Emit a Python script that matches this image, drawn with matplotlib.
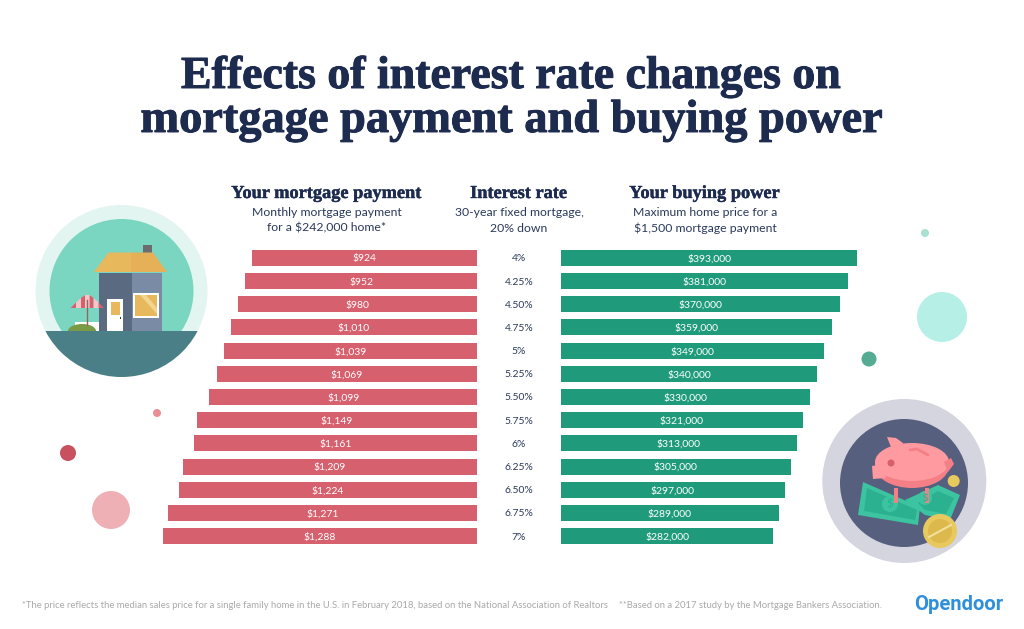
import matplotlib
matplotlib.use('Agg')
import matplotlib.pyplot as plt
import matplotlib.patheffects as pe
from matplotlib.patches import Circle, Ellipse, Polygon, Rectangle, Wedge

W, H = 1024, 629
NAVY = '#1d2b4f'
RED = '#d6606d'
GREEN = '#1f9b7c'

rates = ['4%', '4.25%', '4.50%', '4.75%', '5%', '5.25%', '5.50%', '5.75%', '6%', '6.25%', '6.50%', '6.75%', '7%']
payments = [924, 952, 980, 1010, 1039, 1069, 1099, 1149, 1161, 1209, 1224, 1271, 1288]
buying_power = [393000, 381000, 370000, 359000, 349000, 340000, 330000, 321000, 313000, 305000, 297000, 289000, 282000]

plt.rcParams['font.family'] = ['Lato', 'DejaVu Sans']
SERIF = ['Liberation Serif', 'DejaVu Serif']

fig = plt.figure(figsize=(W / 100, H / 100), dpi=100, facecolor='white')


def px_axes(x0, y0, x1, y1):
    # axes placed by pixel box, y counted from the top of the image
    return fig.add_axes([x0 / W, 1 - y1 / H, (x1 - x0) / W, (y1 - y0) / H])


# backdrop in pixel coordinates for the text and the drawings
bg = px_axes(0, 0, W, H)
bg.set_xlim(0, W)
bg.set_ylim(H, 0)
bg.axis('off')


def circle(x, y, r, color, **kw):
    p = Circle((x, y), r, fc=color, ec='none', **kw)
    bg.add_patch(p)
    return p


def poly(pts, color, **kw):
    p = Polygon(pts, closed=True, fc=color, ec='none', **kw)
    bg.add_patch(p)
    return p


# bubbles
circle(925, 233, 4, '#a8e0d2')
circle(942, 317, 25, '#b5efe6')
circle(869, 359, 7.5, '#55ab93')
circle(157, 413, 4, '#e98f94')
circle(68, 453, 8, '#c9505f')
circle(111, 510, 19, '#eeb0b5')

# house
circle(121.5, 291, 86, '#e3f5f0')
circle(121.5, 291, 72, '#7ad6c0')
ground = circle(121.5, 291, 86, '#4a7f88')
ground.set_clip_path(Rectangle((0, 331), 300, 60, transform=bg.transData))
bg.add_patch(Rectangle((75, 322), 24, 9, fc='white', ec='none'))
bush = Ellipse((82, 331), 28, 14, fc='#7a9a45', ec='none')
bg.add_patch(bush)
bush.set_clip_path(Rectangle((0, 0), 300, 331, transform=bg.transData))
bg.add_patch(Rectangle((99, 273), 33, 58, fc='#5a6a80', ec='none'))
bg.add_patch(Rectangle((132, 273), 30, 58, fc='#7a8ba6', ec='none'))
bg.add_patch(Rectangle((143, 245), 9, 8, fc='#6b6b70', ec='none'))
poly([(94, 272), (108.5, 252.5), (131, 252.5), (131, 272)], '#e8b85c')
poly([(131, 272), (131, 252.5), (153, 252.5), (167, 272)], '#e5b057')
bg.add_patch(Rectangle((107, 299), 16, 32, fc='white', ec='none'))
bg.add_patch(Rectangle((110.5, 302), 9, 13, fc='#e8b85c', ec='none'))
bg.add_patch(Rectangle((119.5, 317), 1.5, 2, fc='#333333', ec='none'))
bg.add_patch(Rectangle((133, 293), 26, 25, fc='white', ec='none'))
bg.add_patch(Rectangle((135, 295), 22, 21, fc='#e8b85c', ec='none'))
poly([(140, 295), (146, 295), (157, 308), (157, 314)], '#f3d592')
bg.plot([87.3, 87.3], [300, 325], color='#8a6a5a', lw=1)
# umbrella dome with stripes
stripe_x = [70.7, 76, 81, 85, 89.6, 93.6, 98.6, 104]
stripe_y = [308, 302.5, 298, 295.2, 295.2, 298, 302.5, 308]
for i in range(7):
    poly([(stripe_x[i], stripe_y[i]), (stripe_x[i + 1], stripe_y[i + 1]),
          (stripe_x[i + 1], 308), (stripe_x[i], 308)], '#d6606d' if i % 2 == 0 else '#f4c6c9')

# piggy bank
circle(904.3, 481, 82, '#d4d5de')
circle(904, 483, 64, '#565f7e')
poly([(905, 500), (938, 485), (960, 495), (950, 520), (925, 515)], '#3cc4a0')
poly([(918, 503), (938, 491), (954, 498), (946, 514), (925, 510)], '#2bb090')
poly([(863, 482), (920, 507), (918, 525), (858, 515)], '#3cc4a0')
poly([(867, 488), (917, 510), (915, 520), (864, 511)], '#2bb090')
circle(890, 504, 8, '#3cc4a0')
circle(925, 498, 7, '#3cc4a0')
bg.text(890, 504, '$', ha='center', va='center', color='#2bb090', fontsize=8)
bg.text(925, 498, '$', ha='center', va='center', color='#2bb090', fontsize=7)
bg.add_patch(Rectangle((894, 488), 4, 15, fc='#f47f86', ec='none'))
bg.add_patch(Rectangle((925, 488), 4, 15, fc='#f47f86', ec='none'))
poly([(887, 437), (896, 438), (903, 443), (905, 450), (893, 452)], '#ff9aa0')
bg.add_patch(Ellipse((912, 466), 74, 44, fc='#f47f86', ec='none'))
bg.add_patch(Ellipse((912, 462), 74, 38, fc='#ff9aa0', ec='none'))
poly([(872, 466), (884, 464), (886, 478), (873, 479)], '#ff9aa0')
poly([(944, 462), (951, 458), (954, 464), (948, 472)], '#f47f86')
circle(891, 463, 3.5, '#d6606d')
bg.plot([910, 917, 928], [450, 449, 455], color='#f47f86', lw=2, solid_capstyle='round')
circle(953.7, 481, 6, '#e8c95e')
circle(940, 531, 17, '#e8c95e')
circle(940, 531, 12, '#dcb84d')
bg.plot([929, 951], [537, 525], color='#f3e09a', lw=1.5)

# title
fat = [pe.withStroke(linewidth=0.7, foreground=NAVY)]
title_kw = dict(ha='center', va='baseline', color=NAVY, fontweight='bold', family=SERIF, path_effects=fat)
bg.text(512, 88, 'Effects of interest rate changes on', fontsize=33, **title_kw)
bg.text(512, 132, 'mortgage payment and buying power', fontsize=33.4, **title_kw)

# column headers
head_kw = dict(ha='center', va='baseline', color=NAVY, fontweight='bold', family=SERIF, fontsize=13.2,
               path_effects=[pe.withStroke(linewidth=0.3, foreground=NAVY)])
bg.text(327, 198, 'Your mortgage payment', **head_kw)
bg.text(519, 198, 'Interest rate', **head_kw)
bg.text(705, 198, 'Your buying power', **head_kw)

sub_kw = dict(ha='center', va='center', color='#2b3a5a', fontsize=8.8)
bg.text(327, 213, 'Monthly mortgage payment', **sub_kw)
bg.text(327, 228, 'for a $242,000 home*', **sub_kw)
bg.text(519, 213, '30-year fixed mortgage,', **sub_kw)
bg.text(519, 228, '20% down', **sub_kw)
bg.text(705, 213, 'Maximum home price for a', **sub_kw)
bg.text(705, 228, '$1,500 mortgage payment', **sub_kw)

# footer
foot_kw = dict(va='center', ha='left', color='#a9a9a9', fontsize=6.85)
bg.text(22, 606, '*The price reflects the median sales price for a single family home in the U.S. in February 2018, based on the National Association of Realtors', **foot_kw)
bg.text(619, 606, '**Based on a 2017 study by the Mortgage Bankers Association.', **foot_kw)
bg.text(959, 604, 'Opendoor', ha='center', va='center', color='#2f8fdb', fontweight='bold', family=['Roboto', 'DejaVu Sans'], fontsize=14.5)

# bars, one axes for each side; scales
y_pos = list(range(len(rates)))
TOP, BOTTOM = 246.4, 547.6

ax_l = px_axes(150, TOP, 477, BOTTOM)
ax_l.barh(y_pos, payments, height=0.69, color=RED)
ax_l.set_xlim(327 / 0.2435, 0)
ax_l.set_ylim(len(rates) - 0.5, -0.5)
ax_l.axis('off')
for i, v in enumerate(payments):
    ax_l.text(v / 2, i, f'${v:,}', ha='center', va='center_baseline', color='white', fontsize=7.5)

ax_r = px_axes(561, TOP, 880, BOTTOM)
ax_r.barh(y_pos, buying_power, height=0.69, color=GREEN)
ax_r.set_xlim(0, 319 / 0.0007535)
ax_r.set_ylim(len(rates) - 0.5, -0.5)
ax_r.axis('off')
for i, v in enumerate(buying_power):
    ax_r.text(v / 2, i, f'${v:,}', ha='center', va='center_baseline', color='white', fontsize=7.5)
    ax_r.text(-42 / 0.0007535, i, rates[i], ha='center', va='center_baseline', color='#2b3a5a', fontsize=7.5)

fig.savefig('out.png', dpi=100, facecolor='white')
